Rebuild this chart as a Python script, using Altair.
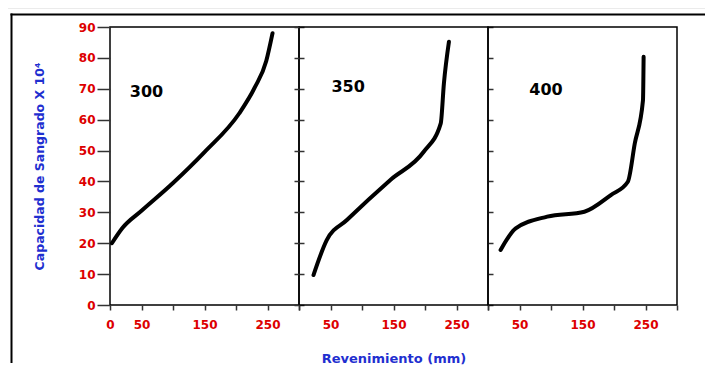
import altair as alt
import pandas as pd

# ---- data ----
rev_300 = [3, 20, 50, 100, 150, 205, 230, 248, 258]
cap_300 = [20, 25, 30.5, 39.5, 49.5, 62, 70.5, 79, 88]
rev_350 = [23, 44, 76, 145, 198, 225, 230, 238]
cap_350 = [9.7, 21, 27.5, 40.5, 49.6, 58.8, 71.7, 85.2]
rev_400 = [20, 44, 94, 153, 195, 222, 233, 246, 247]
cap_400 = [17.8, 24.8, 28.6, 30.2, 35.6, 39.9, 52.3, 66.3, 80.4]

panel_names = ["300", "350", "400"]
label_x = [58, 78, 92]
label_y = [69, 70.5, 69.5]

x_ticks = [0, 50, 100, 150, 200, 250, 300]
y_ticks = [0, 10, 20, 30, 40, 50, 60, 70, 80, 90]
x_title = "Revenimiento (mm)"
y_title = "Capacidad de Sangrado X 10⁴"

RED = "#dd0000"
BLUE = "#1f2fd0"
FONT = "DejaVu Sans"
W, H = 189, 278

xscale = alt.Scale(domain=[0, 300], nice=False, zero=False)
yscale = alt.Scale(domain=[0, 90], nice=False, zero=False)


def x_axis(first, show_title):
    if first:
        expr = "(datum.value==0||datum.value==50||datum.value==150||datum.value==250) ? datum.label : ''"
    else:
        expr = "(datum.value==50||datum.value==150||datum.value==250) ? datum.label : ''"
    kw = dict(values=x_ticks, tickSize=5, tickWidth=1.5, tickColor="#333",
              labelExpr=expr, labelColor=RED, labelFont=FONT, labelFontWeight="bold",
              labelFontSize=12, labelPadding=9, labelFlush=False, domain=False, grid=False)
    if show_title:
        kw.update(title=x_title, titleColor=BLUE, titleFont=FONT, titleFontWeight="bold",
                  titleFontSize=13, titlePadding=22)
    else:
        kw.update(title=None)
    return alt.Axis(**kw)


def ticks_only(orient):
    return alt.Axis(orient=orient, values=y_ticks, labels=False, domain=False, grid=False,
                    tickSize=5, tickWidth=1.5, tickColor="#333", title=None)


main_y_axis = alt.Axis(orient="left", values=y_ticks, tickSize=13, tickWidth=1.5, tickColor="#333",
                       labelColor=RED, labelFont=FONT, labelFontWeight="bold", labelFontSize=12,
                       labelPadding=2, domain=False, grid=False,
                       title=y_title, titleColor=BLUE, titleFont=FONT, titleFontWeight="bold",
                       titleFontSize=12.5, titlePadding=32)


def panel(i, rev, cap, left_axis, right_axis, first, show_title):
    df = pd.DataFrame({"rev": rev, "cap": cap, "ord": list(range(len(rev)))})
    lab = pd.DataFrame({"lx": [label_x[i]], "ly": [label_y[i]], "t": [panel_names[i]]})
    xa = x_axis(first, show_title)
    line = alt.Chart(df).mark_line(color="black", strokeWidth=4, strokeCap="round",
                                   strokeJoin="round", interpolate="monotone").encode(
        x=alt.X("rev:Q", scale=xscale, axis=xa),
        y=alt.Y("cap:Q", scale=yscale, axis=left_axis),
        order="ord:Q",
    )
    text = alt.Chart(lab).mark_text(font=FONT, fontWeight="bold", fontSize=16, color="black",
                                    align="center", baseline="middle").encode(
        x=alt.X("lx:Q", scale=xscale, axis=xa),
        y=alt.Y("ly:Q", scale=yscale, axis=right_axis),
        text="t:N",
    )
    layers = [line, text]
    if first:
        one = pd.DataFrame({"k": [0]})
        gray = alt.Chart(one).mark_rule(color="#d8d8d8", strokeWidth=1).encode(
            x=alt.value(-102), x2=alt.value(595), y=alt.value(-19))
        top = alt.Chart(one).mark_rule(color="black", strokeWidth=2).encode(
            x=alt.value(-99.5), x2=alt.value(595), y=alt.value(-12.5))
        left = alt.Chart(one).mark_rule(color="black", strokeWidth=2).encode(
            x=alt.value(-98.5), y=alt.value(-13.5), y2=alt.value(336))
        layers += [gray, top, left]
    ch = alt.layer(*layers).properties(width=W, height=H)
    if left_axis is not None or right_axis is not None:
        ch = ch.resolve_axis(y="independent")
    return ch


p1 = panel(0, rev_300, cap_300, main_y_axis, ticks_only("right"), True, False)
p2 = panel(1, rev_350, cap_350, ticks_only("left"), ticks_only("right"), False, True)
p3 = panel(2, rev_400, cap_400, None, None, False, False)

chart = alt.hconcat(p1, p2, p3, spacing=0, bounds="flush").properties(
    padding={"left": -2, "top": -2, "right": 0, "bottom": 0},
    background="white",
).configure_view(stroke="black", strokeWidth=1.5)

chart.save("out.html", embed_options={"renderer": "svg", "actions": False})
